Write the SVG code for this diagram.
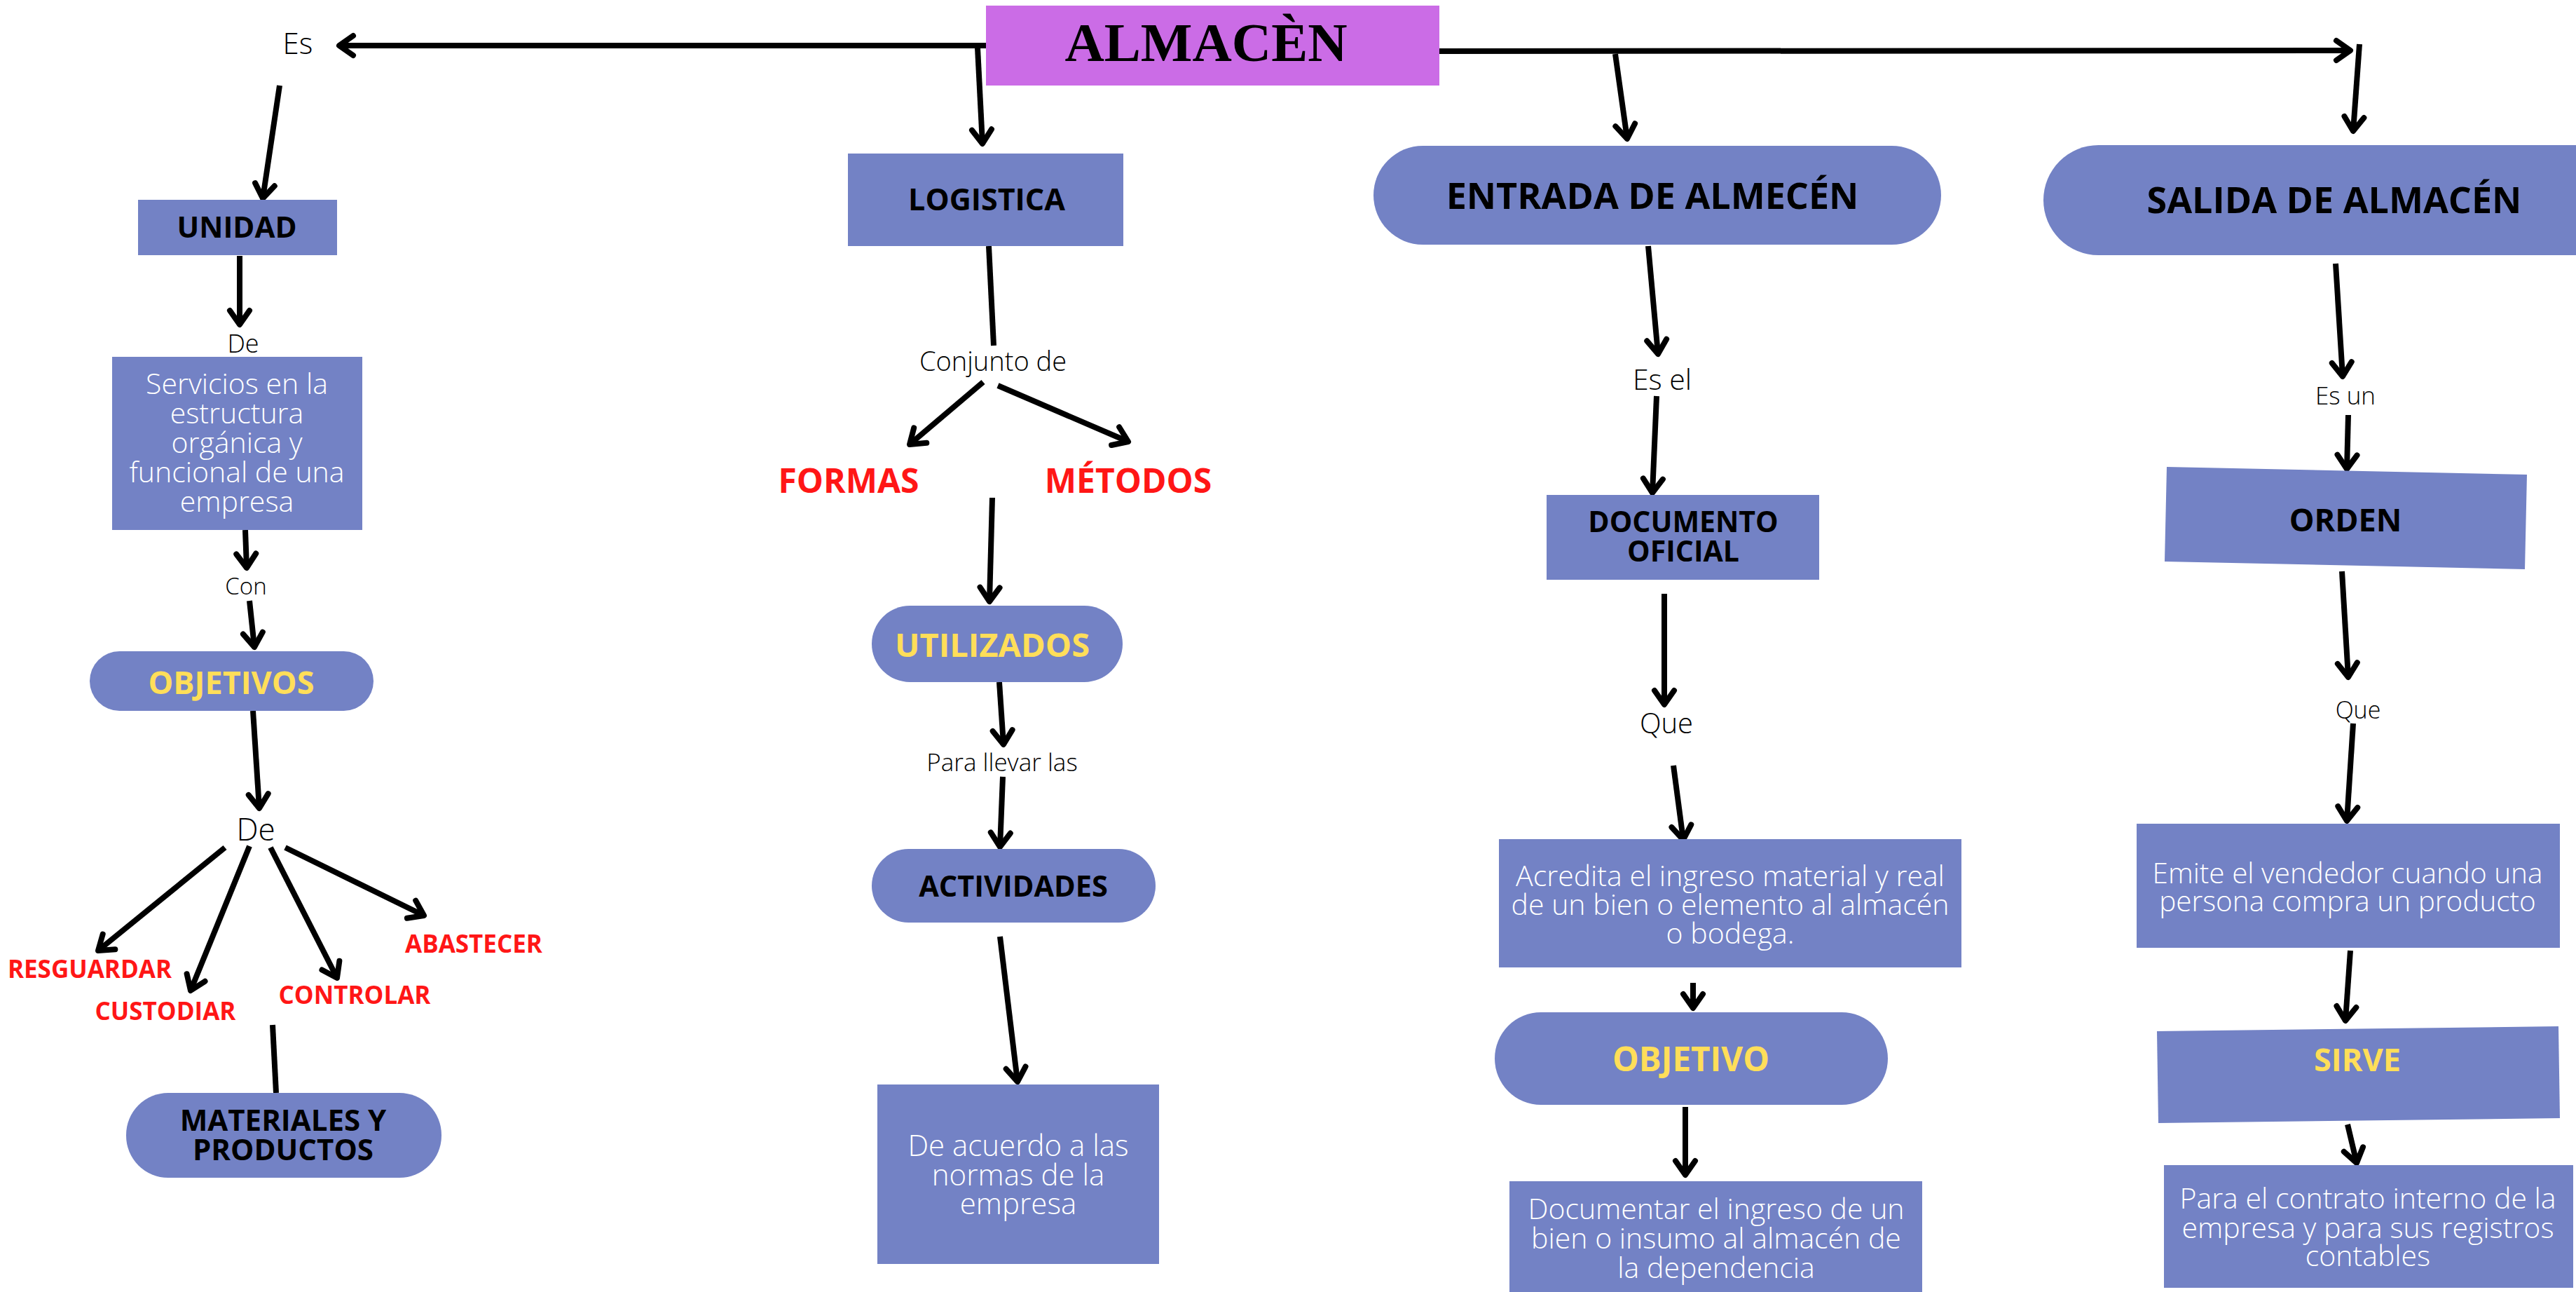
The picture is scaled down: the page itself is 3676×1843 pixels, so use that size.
<svg xmlns="http://www.w3.org/2000/svg" width="3676" height="1843" viewBox="0 0 3676 1843">
<defs>
<marker id="ah" markerUnits="userSpaceOnUse" markerWidth="60" markerHeight="60" viewBox="-30 -30 60 60" refX="0" refY="0" orient="auto" overflow="visible">
<path d="M-20,-14 L0,0 L-20,14" fill="none" stroke="#000" stroke-width="8" stroke-linecap="round" stroke-linejoin="round"/>
</marker>
<style>
.box{fill:#7382C5;}
.top{fill:#CB6CE6;}
.c{fill:none;stroke:#000;stroke-width:8;}
.a{marker-end:url(#ah);}
.t{font-family:"Open Sans","Noto Sans","Liberation Sans",sans-serif;text-anchor:middle;}
.b{font-weight:700;fill:#000;}
.y{font-weight:700;fill:#FFDE59;}
.r{font-weight:700;fill:#FF1616;}
.l{font-weight:300;fill:#000;}
.w{font-weight:300;fill:#FFFFFF;}
</style>
</defs>
<rect width="3676" height="1843" fill="#FFFFFF"/>

<g id="connectors">
<line class="c a" x1="1407" y1="65" x2="484" y2="65"/>
<line class="c a" x1="1395" y1="68" x2="1402" y2="205"/>
<line class="c a" x1="399" y1="122" x2="375" y2="283"/>
<line class="c a" x1="342" y1="365" x2="342" y2="463"/>
<line class="c a" x1="350" y1="756" x2="352" y2="810"/>
<line class="c a" x1="356" y1="857" x2="363" y2="923"/>
<line class="c a" x1="361" y1="1014" x2="370" y2="1153"/>
<line class="c a" x1="321" y1="1209" x2="140" y2="1356"/>
<line class="c a" x1="356" y1="1207" x2="272" y2="1413"/>
<line class="c a" x1="386" y1="1209" x2="481" y2="1395"/>
<line class="c a" x1="407" y1="1209" x2="605" y2="1306"/>
<line class="c" x1="389" y1="1462" x2="394" y2="1559"/>
<line class="c" x1="1411" y1="351" x2="1418" y2="493"/>
<line class="c a" x1="1403" y1="545" x2="1298" y2="634"/>
<line class="c a" x1="1424" y1="550" x2="1610" y2="630"/>
<line class="c a" x1="1416" y1="710" x2="1412" y2="858"/>
<line class="c a" x1="1426" y1="973" x2="1432" y2="1062"/>
<line class="c a" x1="1431" y1="1108" x2="1427" y2="1208"/>
<line class="c a" x1="1427" y1="1336" x2="1452" y2="1543"/>
<line class="c a" x1="2054" y1="73" x2="3354" y2="72"/>
<line class="c a" x1="2305" y1="77" x2="2322" y2="198"/>
<line class="c a" x1="2352" y1="351" x2="2366" y2="505"/>
<line class="c a" x1="2364" y1="565" x2="2358" y2="703"/>
<line class="c a" x1="2375" y1="847" x2="2375" y2="1005"/>
<line class="c a" x1="2388" y1="1092" x2="2402" y2="1198"/>
<line class="c a" x1="2416" y1="1402" x2="2416" y2="1438"/>
<line class="c a" x1="2405" y1="1579" x2="2405" y2="1676"/>
<line class="c a" x1="3367" y1="63" x2="3358" y2="187"/>
<line class="c a" x1="3333" y1="376" x2="3343" y2="537"/>
<line class="c a" x1="3351" y1="592" x2="3349" y2="669"/>
<line class="c a" x1="3342" y1="815" x2="3351" y2="966"/>
<line class="c a" x1="3358" y1="1032" x2="3349" y2="1171"/>
<line class="c a" x1="3354" y1="1356" x2="3347" y2="1456"/>
<line class="c a" x1="3350" y1="1604" x2="3363" y2="1659"/>
</g>

<g id="labels">
<text class="t l" x="425" y="77" font-size="42">Es</text>
<text class="t l" x="347" y="503" font-size="36">De</text>
<text class="t l" x="351" y="848" font-size="33">Con</text>
<text class="t l" x="365" y="1199" font-size="44">De</text>
<text class="t l" x="1417" y="529" font-size="38">Conjunto de</text>
<text class="t l" x="1430" y="1100" font-size="35">Para llevar las</text>
<text class="t l" x="2372" y="556" font-size="41">Es el</text>
<text class="t l" x="2378" y="1046" font-size="40">Que</text>
<text class="t l" x="3347" y="577" font-size="35">Es un</text>
<text class="t l" x="3365" y="1025" font-size="34">Que</text>
</g>

<g id="almacen">
<rect class="top" x="1407" y="8" width="647" height="114"/>
<text x="1721" y="87" font-family="'Liberation Serif','Times New Roman',serif" font-weight="700" font-size="78" text-anchor="middle" fill="#000">ALMACÈN</text>
</g>

<g id="unidad">
<rect class="box" x="197" y="285" width="284" height="79"/>
<text class="t b" x="338" y="339" font-size="42">UNIDAD</text>
</g>

<g id="servicios">
<rect class="box" x="160" y="509" width="357" height="247"/>
<text class="t w" font-size="41"><tspan x="338" y="562">Servicios en la</tspan><tspan x="338" y="604">estructura</tspan><tspan x="338" y="646">orgánica y</tspan><tspan x="338" y="688">funcional de una</tspan><tspan x="338" y="730">empresa</tspan></text>
</g>

<g id="objetivos">
<rect class="box" x="128" y="929" width="405" height="85" rx="42.5"/>
<text class="t y" x="330" y="990" font-size="45">OBJETIVOS</text>
</g>

<g id="resguardar"><text class="t r" x="128" y="1395" font-size="35">RESGUARDAR</text></g>
<g id="custodiar"><text class="t r" x="236" y="1455" font-size="35">CUSTODIAR</text></g>
<g id="controlar"><text class="t r" x="506" y="1432" font-size="35">CONTROLAR</text></g>
<g id="abastecer"><text class="t r" x="676" y="1359" font-size="35">ABASTECER</text></g>

<g id="materiales">
<rect class="box" x="180" y="1559" width="450" height="121" rx="60"/>
<text class="t b" font-size="42"><tspan x="404" y="1613">MATERIALES Y</tspan><tspan x="404" y="1655">PRODUCTOS</tspan></text>
</g>

<g id="logistica">
<rect class="box" x="1210" y="219" width="393" height="132"/>
<text class="t b" x="1408" y="300" font-size="43">LOGISTICA</text>
</g>

<g id="formas"><text class="t r" x="1211" y="703" font-size="48">FORMAS</text></g>
<g id="metodos"><text class="t r" x="1610" y="703" font-size="48">MÉTODOS</text></g>

<g id="utilizados">
<rect class="box" x="1244" y="864" width="358" height="109" rx="54.5"/>
<text class="t y" x="1416" y="937" font-size="47">UTILIZADOS</text>
</g>

<g id="actividades">
<rect class="box" x="1244" y="1211" width="405" height="105" rx="52.5"/>
<text class="t b" x="1446" y="1279" font-size="41.5">ACTIVIDADES</text>
</g>

<g id="deacuerdo">
<rect class="box" x="1252" y="1547" width="402" height="256"/>
<text class="t w" font-size="42"><tspan x="1453" y="1649">De acuerdo a las</tspan><tspan x="1453" y="1691">normas de la</tspan><tspan x="1453" y="1732">empresa</tspan></text>
</g>

<g id="entrada">
<rect class="box" x="1960" y="208" width="810" height="141" rx="70.5"/>
<text class="t b" x="2358" y="298" font-size="52">ENTRADA DE ALMECÉN</text>
</g>

<g id="documento">
<rect class="box" x="2207" y="706" width="389" height="121"/>
<text class="t b" font-size="41"><tspan x="2402" y="759">DOCUMENTO</tspan><tspan x="2402" y="801">OFICIAL</tspan></text>
</g>

<g id="acredita">
<rect class="box" x="2139" y="1197" width="660" height="183"/>
<text class="t w" font-size="41"><tspan x="2469" y="1264">Acredita el ingreso material y real</tspan><tspan x="2469" y="1305">de un bien o elemento al almacén</tspan><tspan x="2469" y="1346">o bodega.</tspan></text>
</g>

<g id="objetivo">
<rect class="box" x="2133" y="1444" width="561" height="132" rx="66"/>
<text class="t y" x="2413" y="1528" font-size="47.5">OBJETIVO</text>
</g>

<g id="documentar">
<rect class="box" x="2154" y="1685" width="589" height="170"/>
<text class="t w" font-size="41"><tspan x="2449" y="1739">Documentar el ingreso de un</tspan><tspan x="2449" y="1781">bien o insumo al almacén de</tspan><tspan x="2449" y="1823">la dependencia</tspan></text>
</g>

<g id="salida">
<rect class="box" x="2916" y="207" width="900" height="157" rx="78.5"/>
<text class="t b" x="3331" y="304" font-size="52">SALIDA DE ALMACÉN</text>
</g>

<g id="orden">
<polygon class="box" points="3092,666 3606,677 3603,812 3089,801"/>
<text class="t b" x="3347" y="758" font-size="45">ORDEN</text>
</g>

<g id="emite">
<rect class="box" x="3049" y="1175" width="604" height="177"/>
<text class="t w" font-size="40.5"><tspan x="3350" y="1260">Emite el vendedor cuando una</tspan><tspan x="3350" y="1300">persona compra un producto</tspan></text>
</g>

<g id="sirve">
<polygon class="box" points="3078,1471 3651,1464 3653,1595 3080,1602"/>
<text class="t y" x="3364" y="1528" font-size="45">SIRVE</text>
</g>

<g id="contrato">
<rect class="box" x="3088" y="1662" width="584" height="175"/>
<text class="t w" font-size="41"><tspan x="3379" y="1724">Para el contrato interno de la</tspan><tspan x="3379" y="1766">empresa y para sus registros</tspan><tspan x="3379" y="1806">contables</tspan></text>
</g>
</svg>
